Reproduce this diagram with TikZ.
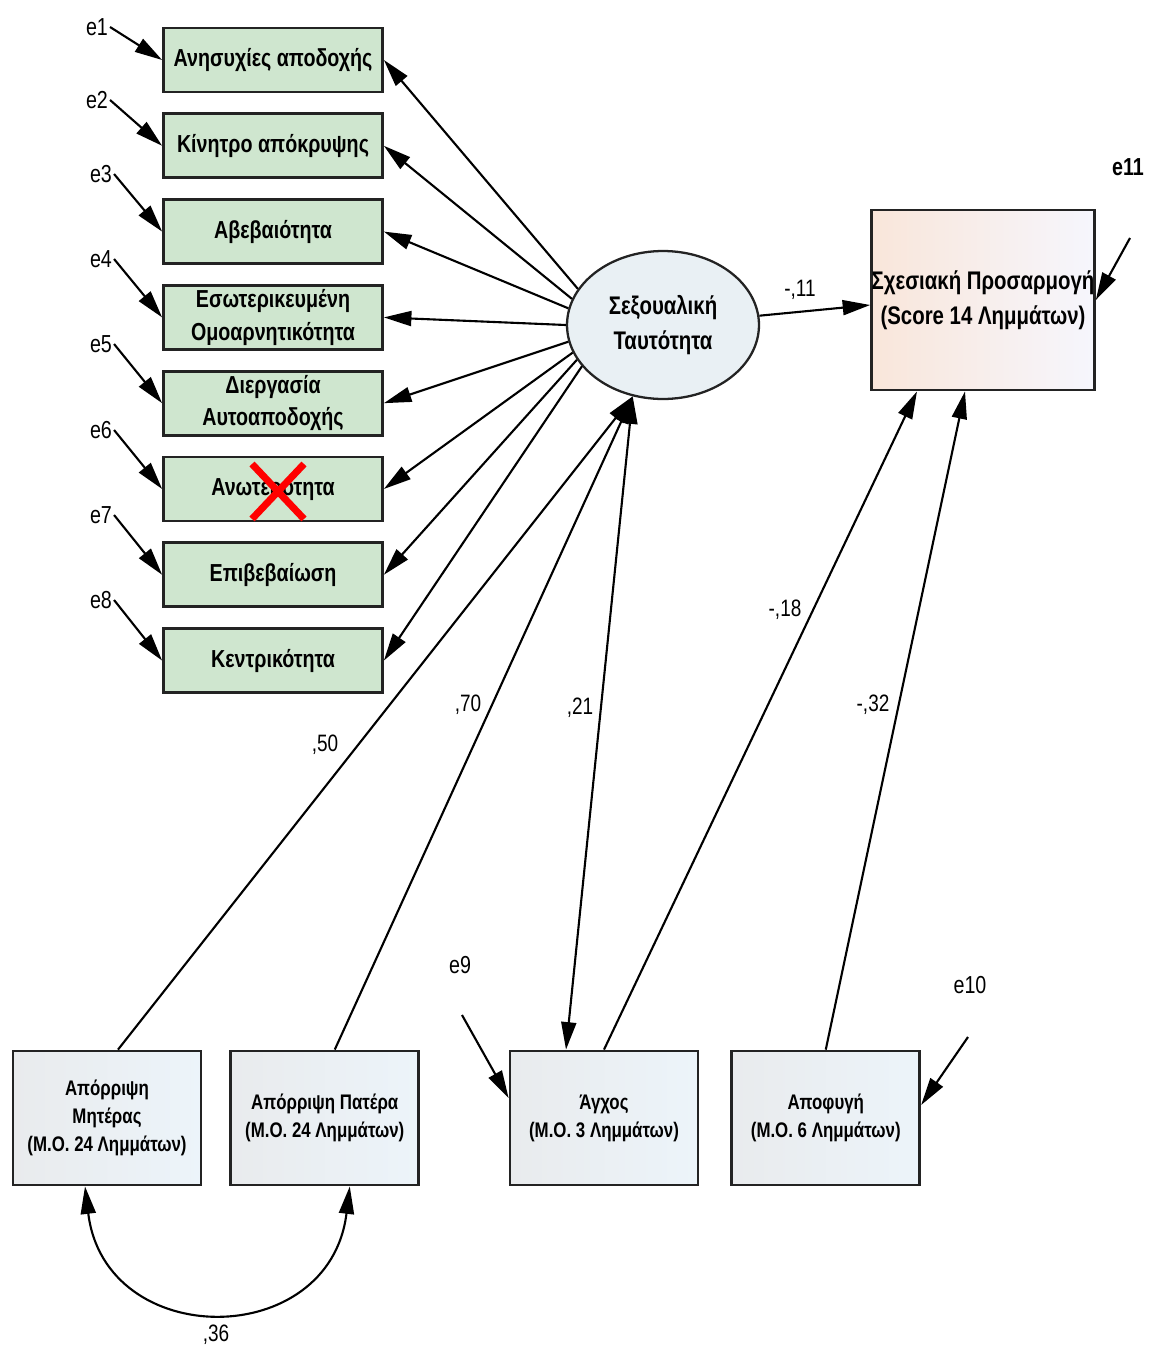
\documentclass[tikz,border=0pt]{standalone}
\usepackage{fontspec}
\setmainfont{Liberation Sans}[FakeStretch=0.8]
\usetikzlibrary{positioning, arrows.meta, calc, shapes.geometric}
\definecolor{indfill}{RGB}{207, 230, 207}
\definecolor{boxline}{RGB}{35, 35, 35}
\definecolor{latentfill}{RGB}{233, 240, 244}
\definecolor{peach}{RGB}{249, 230, 218}
\definecolor{lav}{RGB}{246, 246, 253}
\definecolor{obsleft}{RGB}{233, 235, 237}
\definecolor{obsright}{RGB}{236, 244, 250}

\begin{document}
\begin{tikzpicture}[
    x=0.02cm, y=-0.02cm,
    indicator/.style={
        rectangle, fill=indfill, draw=boxline, line width=1.6pt,
        minimum width=4.38cm, minimum height=1.28cm, inner sep=0pt,
        font=\bfseries\fontsize{14}{18.5}\selectfont, align=center,
    },
    latent/.style={
        ellipse, fill=latentfill, draw=boxline, line width=1.3pt,
        minimum width=3.84cm, minimum height=2.96cm, inner sep=1pt,
        font=\bfseries\fontsize{14.5}{20}\selectfont, align=center,
    },
    outcome/.style={
        rectangle, left color=peach, right color=lav, draw=boxline,
        line width=1.6pt, minimum width=4.42cm, minimum height=3.6cm,
        inner sep=0pt, font=\bfseries\fontsize{14.5}{20}\selectfont, align=center,
    },
    observed/.style={
        rectangle, left color=obsleft, right color=obsright, draw=boxline,
        line width=1.6pt, minimum width=3.76cm, minimum height=2.68cm,
        inner sep=1pt, font=\bfseries\fontsize{12}{16}\selectfont, align=center,
    },
    errlabel/.style={font=\fontsize{14}{16}\selectfont, inner sep=1pt},
    coef/.style={font=\fontsize{13.5}{15}\selectfont, inner sep=1pt},
    regarrow/.style={-{Triangle[length=0.55cm, width=0.3cm]}, line width=1.2pt},
    covarrow/.style={{Triangle[length=0.55cm, width=0.3cm]}-{Triangle[length=0.55cm, width=0.3cm]},
        line width=1.2pt},
]
\useasboundingbox (0,0) rectangle (1160,1349);

% --- Indicators of the latent variable ---
\node[indicator] (ind1) at (273,60) {Ανησυχίες αποδοχής};
\node[indicator, below=0.38cm of ind1] (ind2) {Κίνητρο απόκρυψης};
\node[indicator, below=0.38cm of ind2] (ind3) {Αβεβαιότητα};
\node[indicator, below=0.38cm of ind3] (ind4) {Εσωτερικευμένη\\Ομοαρνητικότητα};
\node[indicator, below=0.38cm of ind4] (ind5) {Διεργασία\\Αυτοαποδοχής};
\node[indicator, below=0.38cm of ind5] (ind6) {Ανωτερότητα};
\node[indicator, below=0.38cm of ind6] (ind7) {Επιβεβαίωση};
\node[indicator, below=0.38cm of ind7] (ind8) {Κεντρικότητα};

% --- Red cross over the dropped indicator ---
\draw[red, line width=4pt] ($(ind6.center)+(-21,-25)$) -- ($(ind6.center)+(31,30)$);
\draw[red, line width=4pt] ($(ind6.center)+(31,-25)$) -- ($(ind6.center)+(-21,30)$);

% --- Error terms e1-e8 ---
\node[errlabel] (e1) at (97,27)  {e1};
\node[errlabel] (e2) at (97,100) {e2};
\node[errlabel] (e3) at (101,174) {e3};
\node[errlabel] (e4) at (101,259) {e4};
\node[errlabel] (e5) at (101,344) {e5};
\node[errlabel] (e6) at (101,430) {e6};
\node[errlabel] (e7) at (101,515) {e7};
\node[errlabel] (e8) at (101,600) {e8};
\draw[regarrow] (e1.east) -- (ind1.west);
\draw[regarrow] (e2.east) -- (ind2.west);
\draw[regarrow] (e3.east) -- (ind3.west);
\draw[regarrow] (e4.east) -- (ind4.west);
\draw[regarrow] (e5.east) -- (ind5.west);
\draw[regarrow] (e6.east) -- (ind6.west);
\draw[regarrow] (e7.east) -- (ind7.west);
\draw[regarrow] (e8.east) -- (ind8.west);

% --- Latent variable and outcome ---
\node[latent] (sex) at (663,325) {Σεξουαλική\\Ταυτότητα};
\node[outcome] (rel) at (983,300) {Σχεσιακή Προσαρμογή\\(Score 14 Λημμάτων)};

\draw[regarrow] (sex.157) -- (ind1.east);
\draw[regarrow] (sex.164) -- (ind2.east);
\draw[regarrow] (sex.170) -- (ind3.east);
\draw[regarrow] (sex.180) -- (ind4.east);
\draw[regarrow] (sex.190) -- (ind5.east);
\draw[regarrow] (sex.197) -- (ind6.east);
\draw[regarrow] (sex.202) -- (ind7.east);
\draw[regarrow] (sex.207) -- (ind8.east);

\draw[regarrow] (sex) -- ($(rel.west)+(0,5)$);
\node[coef] (c11) at (800,290) {-,11};

\node[errlabel, font=\bfseries\fontsize{14}{16}\selectfont] (e11) at (1128,167) {e11};
\coordinate (e11s) at (1130,238);
\draw[regarrow] (e11s) -- (rel.east);

% --- Observed predictors ---
\node[observed] (mom) at (107,1118) {Απόρριψη\\Μητέρας\\(Μ.Ο. 24 Λημμάτων)};
\node[observed, right=0.54cm of mom] (dad) {Απόρριψη Πατέρα\\(Μ.Ο. 24 Λημμάτων)};
\node[observed] (anx) at (604,1118) {Άγχος\\(Μ.Ο. 3 Λημμάτων)};
\node[observed, right=0.62cm of anx] (avo) {Αποφυγή\\(Μ.Ο. 6 Λημμάτων)};

\draw[regarrow] ($(mom.north)+(11,0)$) -- (sex.-113);
\draw[regarrow] ($(dad.north)+(10,0)$) -- (sex.-113);
\draw[covarrow] (sex.-113) -- ($(anx.north)+(-38,0)$);
\draw[regarrow] (anx.north) -- ($(rel.south)+(-66,0)$);
\draw[regarrow] (avo.north) -- ($(rel.south)+(-18,0)$);

\node[coef] (c50) at (325,745) {,50};
\node[coef] (c70) at (468,705) {,70};
\node[coef] (c21) at (580,708) {,21};
\node[coef] (c18) at (785,610) {-,18};
\node[coef] (c32) at (873,705) {-,32};

% --- Errors of the mediators ---
\node[errlabel] (e9) at (460,965) {e9};
\coordinate (e9s) at (462,1015);
\draw[regarrow] (e9s) -- ($(anx.west)+(0,-20)$);
\node[errlabel] (e10) at (970,985) {e10};
\coordinate (e10s) at (968,1037);
\draw[regarrow] (e10s) -- ($(avo.east)+(0,-13)$);

% --- Covariance between the parents ---
\draw[covarrow] ($(mom.south)+(-22,0)$) .. controls +(20,165) and +(-20,165) .. ($(dad.south)+(25,0)$);
\node[coef] (c36) at (216,1335) {,36};

\end{tikzpicture}
\end{document}
